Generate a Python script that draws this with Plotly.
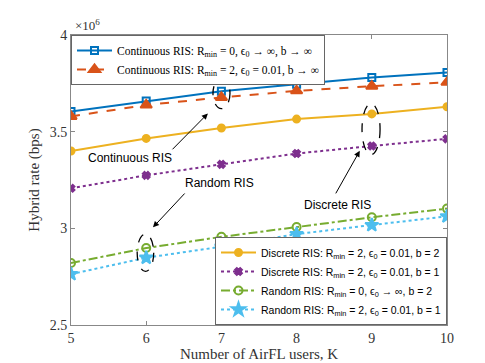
import plotly.graph_objects as go

# number of AirFL users
users = [5, 6, 7, 8, 9, 10]

# hybrid rate, in units of 1e6 bps
cont_r0 = [3.604, 3.658, 3.709, 3.745, 3.780, 3.806]
cont_r2 = [3.579, 3.638, 3.677, 3.711, 3.735, 3.755]
disc_b2 = [3.400, 3.465, 3.519, 3.565, 3.592, 3.629]
disc_b1 = [3.207, 3.274, 3.331, 3.387, 3.426, 3.463]
rand_b2 = [2.821, 2.898, 2.956, 3.007, 3.057, 3.102]
rand_b1 = [2.763, 2.848, 2.905, 2.970, 3.017, 3.062]

yticks = [2.5, 3, 3.5, 4]
xticks = [5, 6, 7, 8, 9, 10]

SERIF = "Liberation Serif, Times New Roman, serif"
SANS = "Liberation Sans, Arial, sans-serif"

series = [
    ("Continuous RIS: R<sub>min</sub> = 0, ϵ<sub>0</sub> → ∞, b → ∞", cont_r0,
     "#0072BD", "solid", "square-open", 7, "legend"),
    ("Continuous RIS: R<sub>min</sub> = 2, ϵ<sub>0</sub> = 0.01, b → ∞", cont_r2,
     "#D95319", "dash", "triangle-up", 10, "legend"),
    ("Discrete RIS: R<sub>min</sub> = 2, ϵ<sub>0</sub> = 0.01, b = 2", disc_b2,
     "#EDB120", "solid", "circle", 7, "legend2"),
    ("Discrete RIS: R<sub>min</sub> = 2, ϵ<sub>0</sub> = 0.01, b = 1", disc_b1,
     "#7E2F8E", "dot", "x", 6, "legend2"),
    ("Random RIS: R<sub>min</sub> = 0, ϵ<sub>0</sub> → ∞, b = 2", rand_b2,
     "#77AC30", "dashdot", "circle-open", 8, "legend2"),
    ("Random RIS: R<sub>min</sub> = 2, ϵ<sub>0</sub> = 0.01, b = 1", rand_b1,
     "#4DBEEE", "dot", "star", 10, "legend2"),
]

fig = go.Figure()
for name, ys, color, dash, symbol, size, leg in series:
    fig.add_trace(go.Scatter(
        x=users, y=ys, name=name, mode="lines+markers", legend=leg,
        line=dict(color=color, width=2, dash=dash),
        marker=dict(symbol=symbol, size=size, color=color,
                    line=dict(color=color, width=2)),
    ))

# dashed ellipses around groups
for x0, x1, y0, y1 in [(6.888, 7.114, 3.619, 3.777),
                       (8.87, 9.11, 3.381, 3.645),
                       (5.88, 6.10, 2.777, 2.970)]:
    fig.add_shape(type="circle", xref="x", yref="y", x0=x0, x1=x1, y0=y0, y1=y1,
                  layer="above", line=dict(color="black", width=1.3, dash="dash"))

# arrows with labels
for text, tx, ty, hx, hy, lx, ly in [
    ("Continuous RIS", 6.33, 3.401, 6.82, 3.594, 5.78, 3.365),
    ("Random RIS", 6.53, 3.188, 6.09, 3.005, 6.98, 3.233),
    ("Discrete RIS", 8.51, 3.173, 8.84, 3.401, 8.55, 3.122),
]:
    fig.add_annotation(x=hx, y=hy, ax=tx, ay=ty, xref="x", yref="y",
                       axref="x", ayref="y", text="", showarrow=True,
                       arrowhead=2, arrowsize=1.2, arrowwidth=1, arrowcolor="black")
    fig.add_annotation(x=lx, y=ly, xref="x", yref="y", text=text, showarrow=False,
                       font=dict(family=SANS, size=12, color="black"))

fig.add_annotation(x=0.0, y=1.0, xref="paper", yref="paper", xanchor="left",
                   yanchor="bottom", text="×10<sup>6</sup>", showarrow=False,
                   font=dict(family=SERIF, size=13, color="#333"), xshift=2)

axis_common = dict(showline=True, linecolor="#888", linewidth=1, mirror="ticks",
                   ticks="inside", ticklen=4, tickcolor="#888", showgrid=False,
                   zeroline=False, tickfont=dict(family=SERIF, size=14, color="#333"))

fig.update_layout(
    width=485, height=363,
    margin=dict(l=63, r=46, t=27, b=40),
    plot_bgcolor="white", paper_bgcolor="white",
    xaxis=dict(range=[5, 10], tickvals=xticks, title=dict(
        text="Number of AirFL users, K", standoff=3,
        font=dict(family=SERIF, size=15, color="#333")), **axis_common),
    yaxis=dict(range=[2.5, 4], tickvals=yticks, ticktext=["2.5", "3", "3.5", "4"],
               title=dict(text="Hybrid rate (bps)", standoff=6,
                          font=dict(family=SERIF, size=15, color="#333")),
               **axis_common),
    legend=dict(x=0, y=1, xanchor="left", yanchor="top", bgcolor="white",
                bordercolor="#666", borderwidth=1, itemwidth=35, tracegroupgap=0,
                font=dict(family=SERIF, size=11.5, color="black")),
    legend2=dict(x=1, y=0, xanchor="right", yanchor="bottom", bgcolor="white",
                 bordercolor="#666", borderwidth=1, itemwidth=35, tracegroupgap=0,
                 font=dict(family=SANS, size=10.5, color="black")),
    showlegend=True,
)

fig.write_html("out.html")
